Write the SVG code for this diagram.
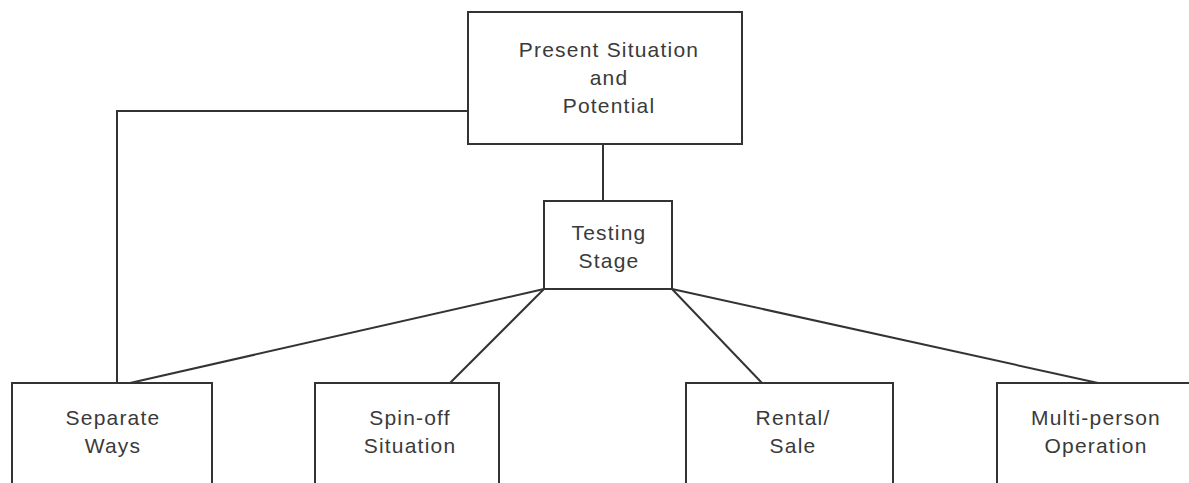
<svg xmlns="http://www.w3.org/2000/svg" width="1189" height="483" viewBox="0 0 1189 483">
<style>
.box{fill:#fff;stroke:#333;stroke-width:2}
.ln{fill:none;stroke:#333;stroke-width:2}
text{font-family:"Liberation Sans",Arial,sans-serif;font-size:21px;letter-spacing:1.2px;fill:#3a3a3a;text-anchor:middle}
</style>
<rect width="1189" height="483" fill="#fff"/>
<g id="connectors">
<polyline class="ln" points="468,111 117,111 117,383"/>
<line class="ln" x1="603" y1="144" x2="603" y2="201"/>
<line class="ln" x1="544" y1="289" x2="130" y2="383"/>
<line class="ln" x1="544" y1="289" x2="450" y2="383"/>
<line class="ln" x1="672" y1="289" x2="762" y2="383"/>
<line class="ln" x1="672" y1="289" x2="1098" y2="383"/>
</g>
<g id="present">
<rect class="box" x="468" y="12" width="274" height="132"/>
<text x="609" y="57">Present Situation</text>
<text x="609" y="85">and</text>
<text x="609" y="113">Potential</text>
</g>
<g id="testing">
<rect class="box" x="544" y="201" width="128" height="88"/>
<text x="609" y="240">Testing</text>
<text x="609" y="268">Stage</text>
</g>
<g id="separate">
<path class="ln" d="M12,490 V383 H212 V490"/>
<text x="113" y="425">Separate</text>
<text x="113" y="453">Ways</text>
</g>
<g id="spinoff">
<path class="ln" d="M315,490 V383 H499 V490"/>
<text x="410" y="425">Spin-off</text>
<text x="410" y="453">Situation</text>
</g>
<g id="rental">
<path class="ln" d="M686,490 V383 H893 V490"/>
<text x="793" y="425">Rental/</text>
<text x="793" y="453">Sale</text>
</g>
<g id="multi">
<path class="ln" d="M997,490 V383 H1195"/>
<text x="1096" y="425">Multi-person</text>
<text x="1096" y="453">Operation</text>
</g>
</svg>
